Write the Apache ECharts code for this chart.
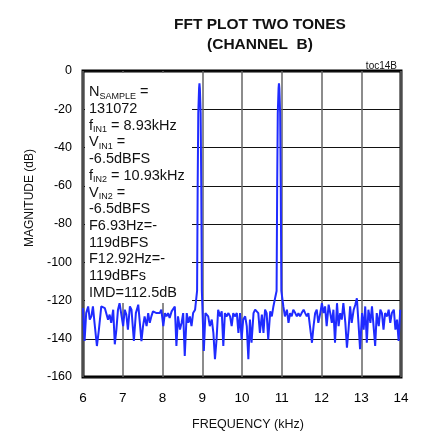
<!DOCTYPE html>
<html>
<head>
<meta charset="utf-8">
<script src="https://cdn.jsdelivr.net/npm/echarts@6/dist/echarts.min.js"></script>
<style>
html,body{margin:0;padding:0;background:#fff;}
#c{width:422px;height:436px;}
</style>
</head>
<body>
<div id="c"></div>
<script>
const titleLines = ['FFT PLOT TWO TONES', '(CHANNEL  B)'];
const xTicks = [6, 7, 8, 9, 10, 11, 12, 13, 14];
const yTicks = [0, -20, -40, -60, -80, -100, -120, -140, -160];
const xName = 'FREQUENCY (kHz)';
const yName = 'MAGNITUDE (dB)';
const tocLabel = 'toc14B';

const freqKHz = [
 6.00,6.04,6.08,6.13,6.17,6.21,6.25,6.29,6.35,6.40,6.46,6.50,6.55,6.59,6.63,6.67,6.71,6.76,6.80,6.84,
 6.88,6.92,6.97,7.01,7.05,7.09,7.13,7.18,7.22,7.28,7.33,7.39,7.43,7.47,7.51,7.55,7.60,7.64,7.68,7.72,
 7.76,7.81,7.85,7.89,7.93,7.97,8.02,8.06,8.10,8.14,8.18,8.23,8.27,8.31,8.35,8.39,8.44,8.48,8.52,8.56,
 8.61,8.65,8.69,8.73,8.77,8.82,8.87,8.885,8.90,8.92,8.93,8.94,8.96,8.975,8.99,9.04,
 9.08,9.15,9.19,9.24,9.28,9.32,9.36,9.40,9.45,9.49,9.53,9.57,9.61,9.66,9.70,9.74,9.78,9.82,9.87,9.91,
 9.95,9.99,10.03,10.08,10.12,10.16,10.20,10.24,10.29,10.33,10.37,10.41,10.45,10.50,10.54,10.58,10.62,10.66,10.71,10.75,
 10.79,10.84,10.87,10.885,10.90,10.92,10.93,10.94,10.96,10.975,10.99,11.04,
 11.08,11.13,11.17,11.21,11.25,11.29,11.34,11.38,11.42,11.46,11.50,11.55,11.59,11.63,11.67,11.71,11.76,11.80,11.84,11.88,
 11.92,11.97,12.01,12.05,12.09,12.13,12.18,12.22,12.26,12.30,12.34,12.39,12.43,12.47,12.51,12.55,12.60,12.64,12.68,12.72,
 12.76,12.81,12.85,12.89,12.93,12.97,13.02,13.06,13.10,13.14,13.18,13.23,13.27,13.31,13.35,13.39,13.44,13.48,13.52,13.56,
 13.60,13.65,13.69,13.73,13.77,13.82,13.86,13.90,13.94,13.98
];
const magnitudeDB = [
 -124.0,-141.2,-126.6,-123.1,-130.0,-128.3,-123.1,-131.7,-143.8,-135.2,-123.1,-122.2,-124.0,-123.1,-130.0,-127.4,-131.7,-124.8,-142.9,-135.2,
 -124.8,-121.4,-122.2,-133.4,-124.8,-127.4,-135.2,-123.1,-124.8,-141.2,-126.6,-122.2,-123.1,-141.2,-133.4,-128.3,-133.4,-126.6,-131.7,-128.3,
 -125.7,-126.6,-126.6,-125.7,-126.6,-124.8,-133.4,-126.6,-128.3,-126.6,-129.1,-125.7,-126.6,-123.1,-143.8,-128.3,-135.2,-131.7,-126.6,-149.0,
 -126.6,-131.7,-128.3,-133.4,-126.6,-124.8,-115,-60,-22,-9,-6.5,-9,-22,-60,-115,-146.4,
 -126.6,-128.3,-133.4,-130.0,-136.9,-150.7,-140.3,-124.8,-128.3,-125.7,-143.8,-126.6,-128.3,-126.6,-128.3,-133.4,-126.6,-128.3,-126.6,-136.9,
 -126.6,-140.3,-130.0,-128.3,-133.4,-150.7,-130.0,-142.1,-126.6,-124.8,-125.7,-126.6,-136.9,-127.4,-136.9,-124.8,-126.6,-140.3,-125.7,-128.3,
 -123.1,-118.0,-115,-60,-22,-9,-6.5,-9,-22,-60,-115,-123.1,
 -128.3,-124.8,-131.7,-126.6,-128.3,-124.8,-126.6,-128.3,-126.6,-128.3,-126.6,-124.8,-126.6,-128.3,-126.6,-125.7,-142.1,-133.4,-126.6,-124.8,
 -131.7,-126.6,-121.4,-126.6,-123.1,-133.4,-122.2,-126.6,-131.7,-124.8,-142.1,-121.4,-133.4,-126.6,-130.0,-121.4,-131.7,-144.7,-135.2,-123.1,
 -131.7,-124.8,-122.2,-118.8,-131.7,-145.5,-126.6,-135.2,-123.1,-142.1,-124.8,-131.7,-123.1,-133.4,-143.8,-126.6,-133.4,-124.8,-126.6,-135.2,
 -126.6,-128.3,-124.8,-131.7,-126.6,-124.8,-135.2,-130.0,-141.2,-124.8
];
const noteLines = [
 ['N', 'SAMPLE', ' ='],
 ['131072'],
 ['f', 'IN1', ' = 8.93kHz'],
 ['V', 'IN1', ' ='],
 ['-6.5dBFS'],
 ['f', 'IN2', ' = 10.93kHz'],
 ['V', 'IN2', ' ='],
 ['-6.5dBFS'],
 ['F6.93Hz=-'],
 ['119dBFS'],
 ['F12.92Hz=-'],
 ['119dBFs'],
 ['IMD=112.5dB']
];

const FONT = '"Liberation Sans", Arial, sans-serif';
const chart = echarts.init(document.getElementById('c'), null, {renderer: 'canvas'});
const data = freqKHz.map((f, i) => [f, magnitudeDB[i]]);

const noteText = noteLines.map(l => l.length === 1 ? '{n|' + l[0] + '}' :
  '{n|' + l[0] + '}{s|' + l[1] + '}{n|' + l[2] + '}').join('\n');

chart.setOption({
  animation: false,
  backgroundColor: '#fff',
  textStyle: {fontFamily: FONT},
  grid: {left: 83, right: 21, top: 71, bottom: 59, show: true, borderColor: '#000', borderWidth: 3, backgroundColor: 'transparent'},
  xAxis: {
    type: 'value', min: xTicks[0], max: xTicks[xTicks.length - 1], interval: 1,
    axisLine: {show: false},
    axisTick: {show: false},
    axisLabel: {color: '#000', fontSize: 13.5, margin: 14, fontFamily: FONT},
    splitLine: {show: true, lineStyle: {color: '#666', width: 1.5}}
  },
  yAxis: {
    type: 'value', min: yTicks[yTicks.length - 1], max: yTicks[0], interval: 20,
    axisLine: {show: false},
    axisTick: {show: false},
    axisLabel: {color: '#000', fontSize: 12.5, margin: 11, fontFamily: FONT},
    splitLine: {show: true, lineStyle: {color: '#111', width: 1.2}}
  },
  series: [{
    type: 'line', data: data, showSymbol: false, z: 5,
    lineStyle: {color: '#1f2bff', width: 2},
    itemStyle: {color: '#1f2bff'}
  }],
  graphic: [
    {type: 'text', x: 260, y: 25, z: 10,
     style: {text: titleLines[0], fill: '#111', font: 'bold 15.5px ' + FONT, textAlign: 'center', textVerticalAlign: 'middle'}},
    {type: 'text', x: 260, y: 45, z: 10,
     style: {text: titleLines[1], fill: '#111', font: 'bold 15.5px ' + FONT, textAlign: 'center', textVerticalAlign: 'middle'}},
    {type: 'text', x: 397, y: 66, z: 10,
     style: {text: tocLabel, fill: '#111', font: '10px ' + FONT, textAlign: 'right', textVerticalAlign: 'middle'}},
    {type: 'text', x: 30, y: 198, rotation: Math.PI / 2, z: 10,
     style: {text: yName, fill: '#111', font: '12px ' + FONT, textAlign: 'center', textVerticalAlign: 'middle'}},
    {type: 'text', x: 248, y: 425, z: 10,
     style: {text: xName, fill: '#111', font: '12.5px ' + FONT, textAlign: 'center', textVerticalAlign: 'middle'}},
    {type: 'rect', shape: {x: 85, y: 73, width: 107, height: 230}, z: 4,
     style: {fill: '#fff'}},
    {type: 'text', x: 89, y: 84, z: 10,
     style: {
       text: noteText,
       rich: {
         n: {fontSize: 14.5, fontFamily: FONT, fill: '#111', lineHeight: 16.7},
         s: {fontSize: 9, fontFamily: FONT, fill: '#111', lineHeight: 10, verticalAlign: 'bottom'}
       }
     }}
  ]
});
</script>
</body>
</html>
